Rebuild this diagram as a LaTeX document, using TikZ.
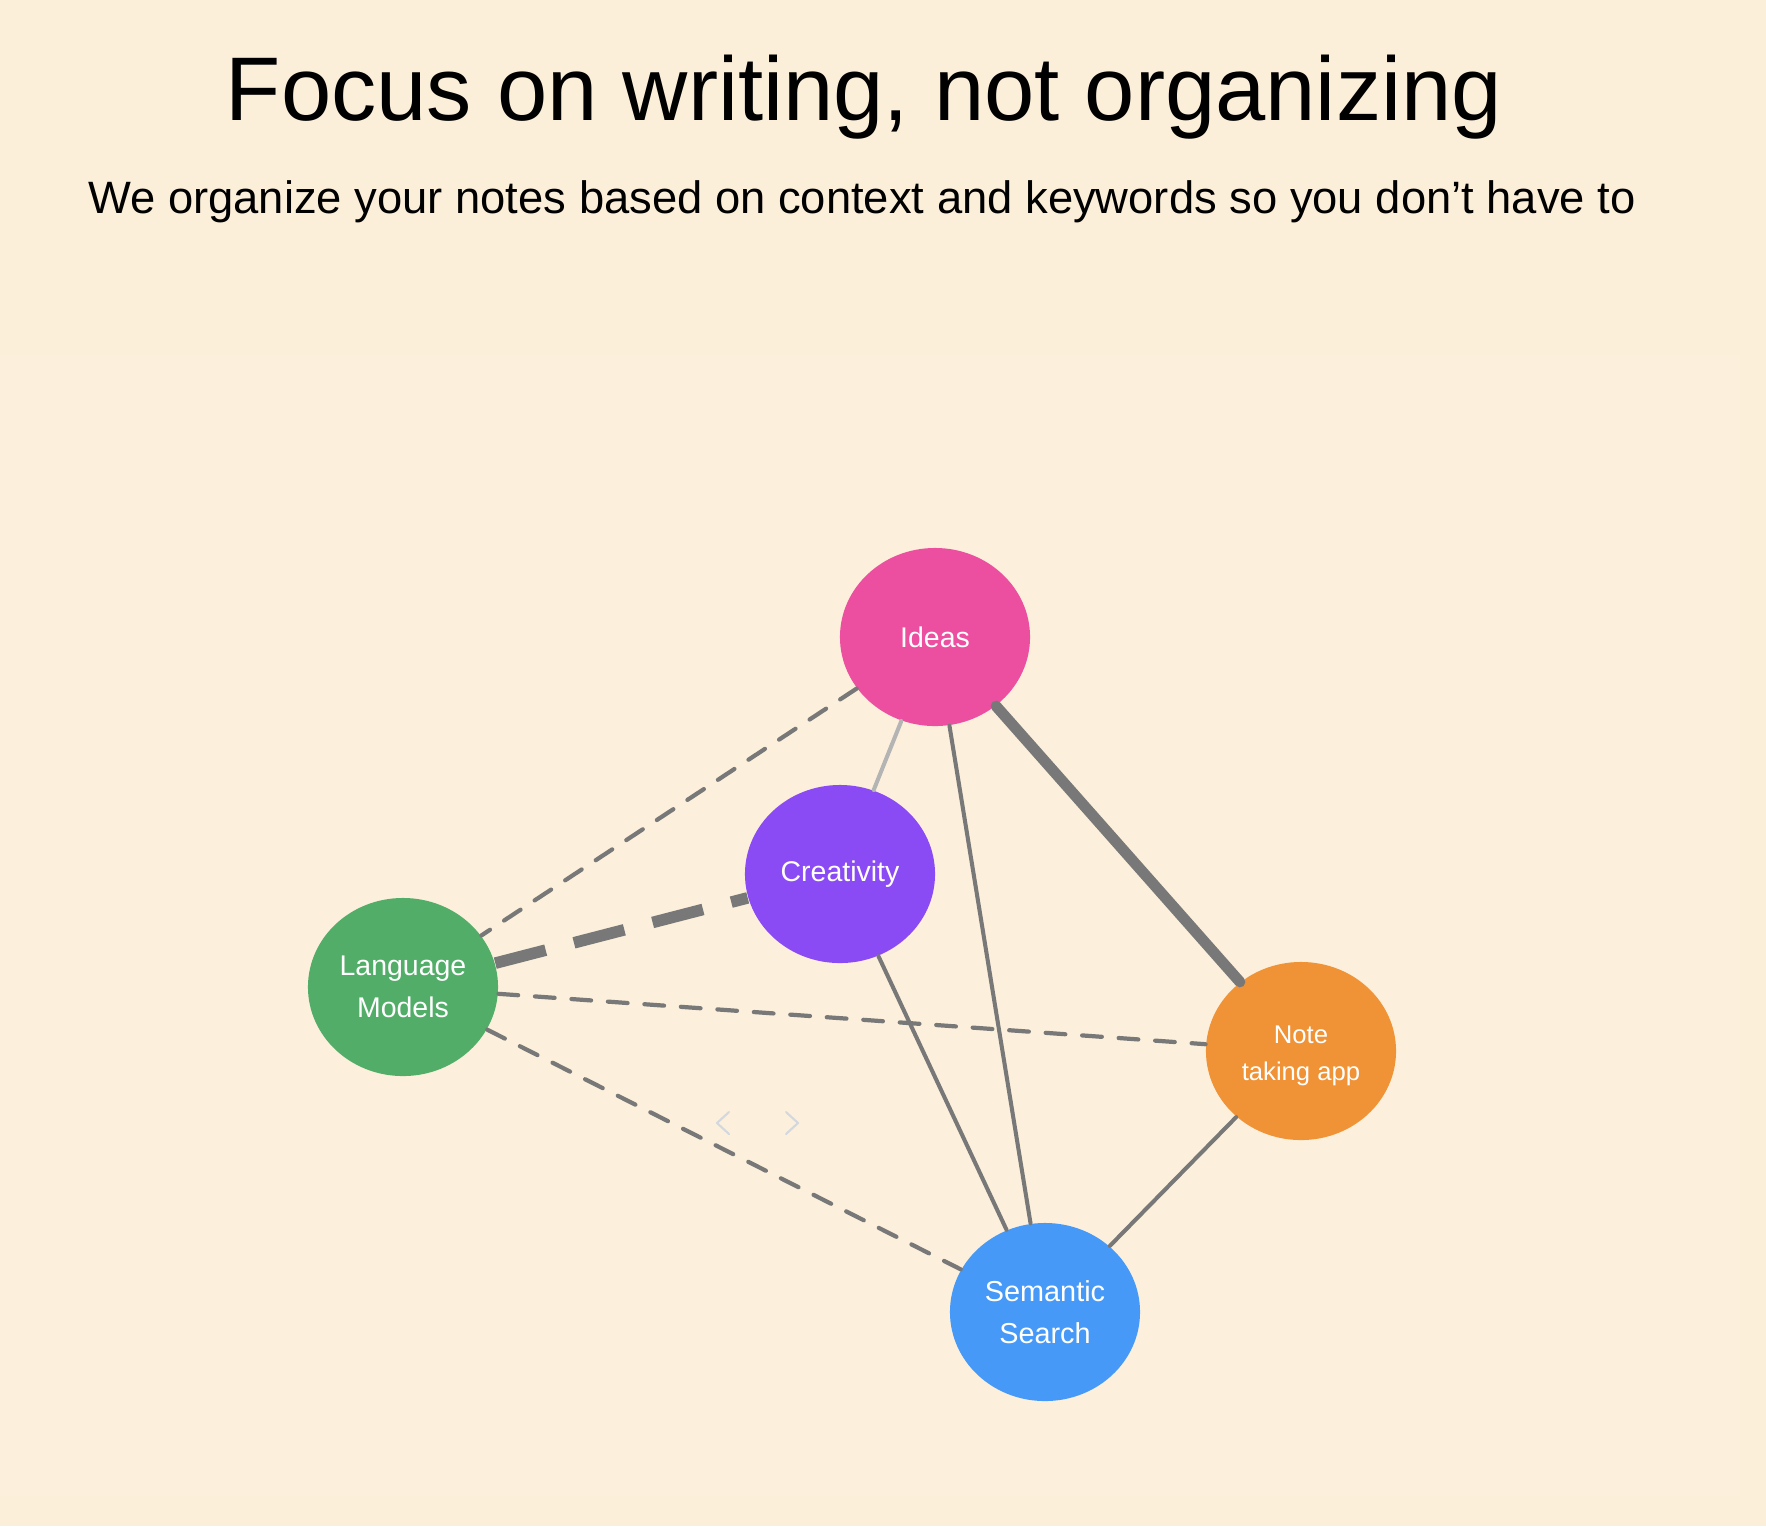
\documentclass[tikz,border=0pt]{standalone}
\usepackage{fontspec}
\setmainfont{Liberation Sans}
\usetikzlibrary{shapes.geometric}
\definecolor{bgcol}{HTML}{FCEFDA}
\definecolor{panelcol}{HTML}{FCF0DC}
\definecolor{edgecol}{HTML}{787878}
\definecolor{lightedge}{HTML}{B4B4B4}
\definecolor{chevcol}{HTML}{D3D8DE}
\definecolor{ideascol}{HTML}{EC4FA0}
\definecolor{creacol}{HTML}{8B4BF4}
\definecolor{langcol}{HTML}{52AD68}
\definecolor{notecol}{HTML}{F09236}
\definecolor{semcol}{HTML}{4699F7}
\tikzset{
  topic/.style={ellipse, draw=none, minimum width=1.90cm, minimum height=1.78cm,
    inner sep=0pt, text=white, align=center,
    font=\fontsize{8.1}{12}\selectfont},
  thinsolid/.style={draw=edgecol, line width=1.15pt, line cap=round},
  thicksolid/.style={draw=edgecol, line width=3.1pt, line cap=round},
  thindash/.style={draw=edgecol, line width=1.2pt, line cap=round,
    dash pattern=on 5.6pt off 4.8pt},
  thickdash/.style={draw=edgecol, line width=3.3pt, line cap=butt,
    dash pattern=on 14.8pt off 8.3pt},
  chevron/.style={draw=chevcol, line width=0.6pt, line cap=round, line join=round}
}
\begin{document}
\begin{tikzpicture}[x=0.01cm, y=-0.01cm]
\fill[bgcol] (0,0) rectangle (1766,1526);
\useasboundingbox (0,0) rectangle (1766,1526);
\fill[panelcol] (0,355) rectangle (1740,1496);

\node[anchor=base, inner sep=0pt, font=\fontsize{25.7}{30}\selectfont] (title) at (864,120) {Focus on writing, not organizing};
\node[anchor=base, inner sep=0pt, font=\fontsize{12.9}{16}\selectfont] (subtitle) at (862,213) {We organize your notes based on context and keywords so you don’t have to};

\node[topic, fill=ideascol] (ideas) at (935,637) {Ideas};
\node[topic, fill=creacol] (crea) at (840,874) {Creativity};
\node[topic, fill=langcol] (lang) at (403,987) {Language\\Models};
\node[topic, fill=notecol, font=\fontsize{7.3}{10.6}\selectfont] (note) at (1301,1051) {\rule{0pt}{7.9pt}Note\\taking app};
\node[topic, fill=semcol, font=\fontsize{8.2}{12}\selectfont] (sem) at (1045,1312) {Semantic\\Search};

\draw[thindash] (ideas) -- (lang);
\draw[thinsolid, draw=lightedge] (ideas) -- (crea);
\draw[thinsolid] (ideas) -- (sem);
\draw[thicksolid] (ideas) -- (note);
\draw[thickdash] (lang) -- (crea);
\draw[thinsolid] (crea) -- (sem);
\draw[thindash] (lang) -- (note);
\draw[thindash] (lang) -- (sem);
\draw[thinsolid] (note) -- (sem);

\coordinate (la) at (729,1112);
\coordinate (lb) at (717,1123);
\coordinate (lc) at (729,1134);
\coordinate (ra) at (786,1112);
\coordinate (rb) at (798,1123);
\coordinate (rc) at (786,1134);
\draw[chevron] (la) -- (lb) -- (lc);
\draw[chevron] (ra) -- (rb) -- (rc);
\end{tikzpicture}
\end{document}
